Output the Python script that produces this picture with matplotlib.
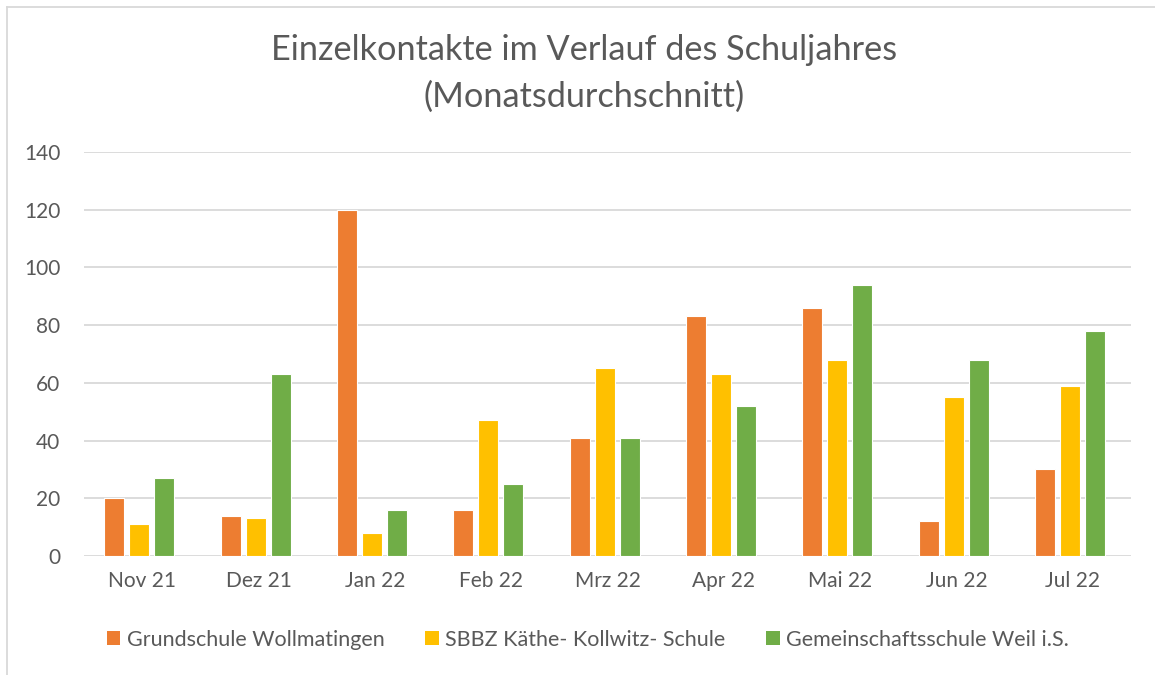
import matplotlib
matplotlib.use("Agg")
import matplotlib.pyplot as plt
import numpy as np
from matplotlib.patches import Patch
from matplotlib.lines import Line2D

categories = ["Nov 21", "Dez 21", "Jan 22", "Feb 22", "Mrz 22", "Apr 22", "Mai 22", "Jun 22", "Jul 22"]
grundschule = [20, 14, 120, 16, 41, 83, 86, 12, 30]
sbbz = [11, 13, 8, 47, 65, 63, 68, 55, 59]
gemeinschaft = [27, 63, 16, 25, 41, 52, 94, 68, 78]
series_names = ["Grundschule Wollmatingen", "SBBZ Käthe- Kollwitz- Schule", "Gemeinschaftsschule Weil i.S."]
colors = ["#ED7D31", "#FFC000", "#70AD47"]
yticks = [0, 20, 40, 60, 80, 100, 120, 140]

plt.rcParams['font.family'] = ['Lato', 'DejaVu Sans']
txt = "#595959"

W, H = 1155, 675
fig = plt.figure(figsize=(W/100, H/100), dpi=100)
left, right, top, bottom = 84, 1131, 152, 556
ax = fig.add_axes([left/W, 1-bottom/H, (right-left)/W, (bottom-top)/H])

x = np.arange(len(categories))
bw = 0.172
step = 0.215
for i, (vals, c) in enumerate(zip([grundschule, sbbz, gemeinschaft], colors)):
    ax.bar(x + (i-1)*step - 0.025, vals, width=bw, color=c, edgecolor="white", linewidth=0.8, zorder=3)

ax.set_xlim(-0.5, len(categories)-0.5)
ax.set_ylim(0, 140)
ax.set_yticks(yticks)
ax.set_yticklabels([str(v) for v in yticks], fontsize=15, color=txt)
ax.set_xticks(x)
ax.set_xticklabels(categories, fontsize=15, color=txt)
ax.tick_params(axis='both', length=0)
ax.tick_params(axis='y', pad=17)
ax.tick_params(axis='x', pad=11)
for s in ax.spines.values():
    s.set_visible(False)
ax.grid(axis='y', color="#D9D9D9", linewidth=1.3, zorder=0)
ax.set_axisbelow(True)

fig.text(584/W, 1-50/H, "Einzelkontakte im Verlauf des Schuljahres", ha='center', va='center', fontsize=24.7, color=txt)
fig.text(584/W, 1-97/H, "(Monatsdurchschnitt)", ha='center', va='center', fontsize=24.7, color=txt)

handles = [Patch(facecolor=c, edgecolor='none') for c in colors]
fig.legend(handles, series_names, loc='center', bbox_to_anchor=(588/W, 1-640/H), ncol=3,
           frameon=False, fontsize=15.5, labelcolor=txt, handlelength=0.62, handleheight=0.62,
           handletextpad=0.3, columnspacing=1.9)

# outer chart border (top and left visible)
fig.add_artist(Line2D([7/W, 1], [1-7/H, 1-7/H], color="#D9D9D9", linewidth=1.3, transform=fig.transFigure))
fig.add_artist(Line2D([7/W, 7/W], [0, 1-7/H], color="#D9D9D9", linewidth=1.3, transform=fig.transFigure))

fig.savefig("out.png", dpi=100, facecolor="white")
